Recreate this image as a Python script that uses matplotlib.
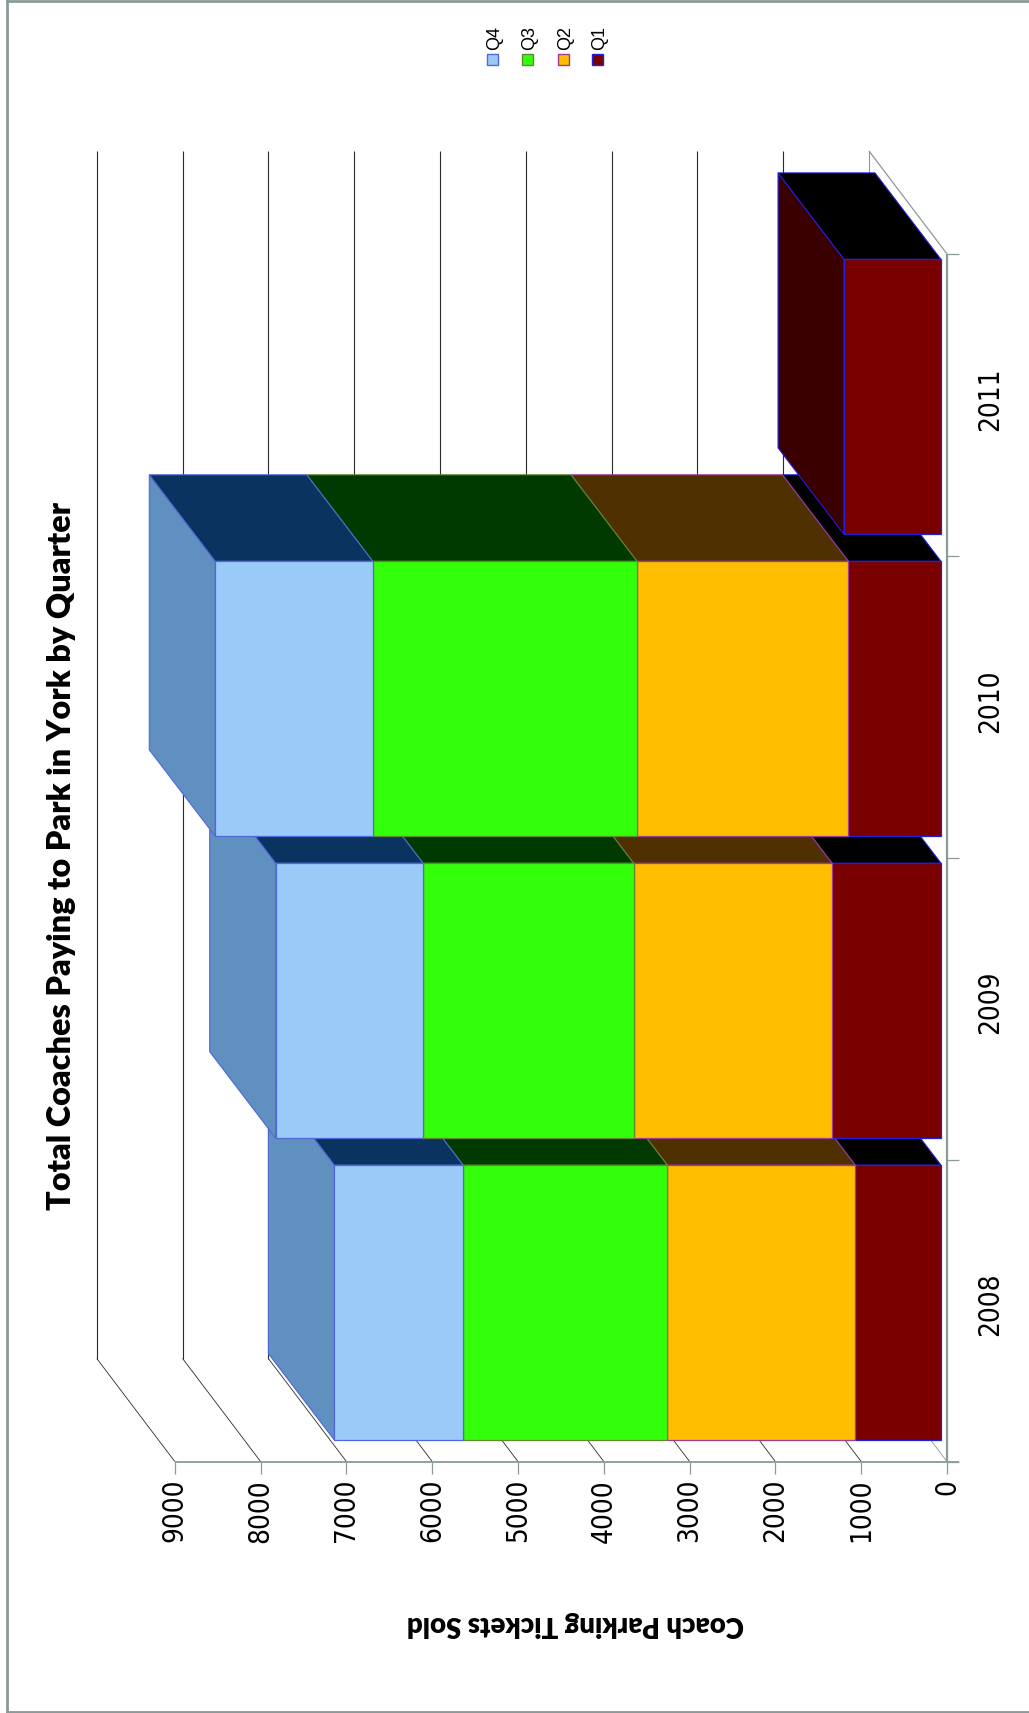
import matplotlib
matplotlib.use("Agg")
import matplotlib.pyplot as plt
from matplotlib.patches import Polygon

# ----------------------------
# Data
# ----------------------------
years = ["2008", "2009", "2010", "2011"]
quarters = ["Q1", "Q2", "Q3", "Q4"]
q1 = [1000, 1270, 1080, 1130]
q2 = [2190, 2313, 2463, 0]
q3 = [2380, 2454, 3080, 0]
q4 = [1500, 1717, 1835, 0]
value_ticks = [0, 1000, 2000, 3000, 4000, 5000, 6000, 7000, 8000, 9000]

# Face colours per quarter
front_colours = ["#7a0000", "#ffbe00", "#33ff0a", "#99caf8"]
end_colours = ["#000000", "#4f3000", "#003a00", "#0b335f"]
side_colours = ["#3a0000", "#7f5f00", "#1a8f05", "#5f90bf"]
edge_colours = ["#2020e0", "#a03a9a", "#5f8a30", "#5068d8"]

AXIS_GREY = "#8a9a98"
GRID_DARK = "#2a2a2a"

# ----------------------------
# Scales: the chart is turned a quarter clockwise, values grow to the left
# and years grow upwards
# ----------------------------
W, H = 1029, 1713
PX_PER_VALUE = 0.0858
PX_PER_CAT = 301.9
VALUE_ZERO_PX = 941.0
CAT_ZERO_PX = 1302.6

BAR_WIDTH = 275 / PX_PER_CAT
# oblique depth of the whole floor, and of the bars that stand on it
FLOOR_DV, FLOOR_DC = 78 / PX_PER_VALUE, 103 / PX_PER_CAT
BAR_DV, BAR_DC = 66 / PX_PER_VALUE, 86.5 / PX_PER_CAT
FRONT_DV, FRONT_DC = 6 / PX_PER_VALUE, 8 / PX_PER_CAT
TICK_DV, TICK_DC = 12 / PX_PER_VALUE, 12 / PX_PER_CAT

TICK_FONT = dict(fontsize=20, family="DejaVu Sans", stretch="condensed", color="black")

fig = plt.figure(figsize=(W / 100, H / 100), dpi=100, facecolor="white")
ax = fig.add_axes([0, 0, 1, 1])
ax.set_xlim(VALUE_ZERO_PX / PX_PER_VALUE, (VALUE_ZERO_PX - W) / PX_PER_VALUE)
ax.set_ylim((CAT_ZERO_PX - H) / PX_PER_CAT, CAT_ZERO_PX / PX_PER_CAT)
ax.set_axis_off()


def line(xs, ys, colour, lw=0.75, z=1):
    ax.plot(xs, ys, color=colour, linewidth=lw, zorder=z, solid_capstyle="butt")


# ----------------------------
# Walls, floor and axes
# ----------------------------
# The floor starts in front of the bars by FRONT_DV / FRONT_DC
axis_v = -FRONT_DV
band_low = -0.5 - FRONT_DC
band_high = len(years) - 0.5 - FRONT_DC

for v in value_ticks:
    vx = axis_v + v
    colour = AXIS_GREY if v == 0 else GRID_DARK
    # back wall line and the diagonal across the floor end
    line([vx + FLOOR_DV] * 2, [band_low + FLOOR_DC, band_high + FLOOR_DC], colour, 0.8)
    line([vx, vx + FLOOR_DV], [band_low, band_low + FLOOR_DC], colour, 0.6)
    # tick stub under the value axis
    line([vx, vx], [band_low, band_low - TICK_DC], AXIS_GREY, 0.9, 2)
    ax.text(vx, band_low - 1.45 * TICK_DC, f"{v}", rotation=90, ha="center", va="top", **TICK_FONT)

line([axis_v, axis_v], [band_low, band_high], AXIS_GREY, 1.6, 2)
line([axis_v + value_ticks[-1], axis_v - TICK_DV], [band_low, band_low], AXIS_GREY, 1.3, 2)
line([axis_v, axis_v + FLOOR_DV], [band_high, band_high + FLOOR_DC], AXIS_GREY, 0.9, 2)
for i in range(len(years) + 1):
    c = i - 0.5 - FRONT_DC
    line([axis_v, axis_v - TICK_DV], [c, c], AXIS_GREY, 0.9, 2)

for i, year in enumerate(years):
    ax.text(axis_v - 3.6 * TICK_DV, i - FRONT_DC + 0.02, year, rotation=90, ha="center", va="center", **TICK_FONT)

# ----------------------------
# Stacked blocks, later years overlap earlier ones
# ----------------------------
series = [q1, q2, q3, q4]
z = 5
for i in range(len(years)):
    c0, c1 = i - BAR_WIDTH / 2, i + BAR_WIDTH / 2
    base = 0
    for s, values in enumerate(series):
        val = values[i]
        if val == 0:
            continue
        top = base + val
        edge = edge_colours[s]
        side = Polygon([(top, c0), (top + BAR_DV, c0 + BAR_DC), (top + BAR_DV, c1 + BAR_DC), (top, c1)],
                       facecolor=side_colours[s], edgecolor=edge, linewidth=0.8, zorder=z)
        end = Polygon([(base, c1), (top, c1), (top + BAR_DV, c1 + BAR_DC), (base + BAR_DV, c1 + BAR_DC)],
                      facecolor=end_colours[s], edgecolor=edge, linewidth=0.8, zorder=z + 1)
        front = Polygon([(base, c0), (top, c0), (top, c1), (base, c1)],
                        facecolor=front_colours[s], edgecolor=edge, linewidth=0.9, zorder=z + 2)
        for patch in (side, end, front):
            ax.add_patch(patch)
        z += 3
        base = top

# ----------------------------
# Text, legend and outer frame (placed in figure pixels)
# ----------------------------
def fig_xy(px, py):
    return px / W, 1 - py / H


fig.text(*fig_xy(62, 856), "Total Coaches Paying to Park in York by Quarter", rotation=90,
         ha="center", va="center", fontsize=23.3, fontweight=800, family="Lato", color="black")
fig.text(*fig_xy(575, 1624), "Coach Parking Tickets Sold", rotation=180,
         ha="center", va="center", fontsize=19.8, fontweight=800, family="Lato", color="black")

legend_x = [597, 563, 527, 492]
for s, q in enumerate(quarters):
    px = legend_x[s]
    fig.text(*fig_xy(px + 3, 38), q, rotation=90, ha="center", va="center",
             fontsize=13, family="Liberation Sans", color="black")
    swatch = plt.Rectangle(fig_xy(px - 5.5, 65), 11 / W, 11 / H, transform=fig.transFigure,
                           facecolor=front_colours[s], edgecolor=edge_colours[s], linewidth=1.0)
    fig.add_artist(swatch)

frame = dict(color=AXIS_GREY, linewidth=2.0, transform=fig.transFigure)
fig.add_artist(plt.Line2D([7 / W, 7 / W], [0, 1], **frame))
fig.add_artist(plt.Line2D([7 / W, 1], [1 - 1 / H, 1 - 1 / H], **frame))
fig.add_artist(plt.Line2D([7 / W, 1], [1 - 1711.5 / H, 1 - 1711.5 / H], **frame))

fig.savefig("out.png", dpi=100, facecolor="white")
plt.close(fig)
